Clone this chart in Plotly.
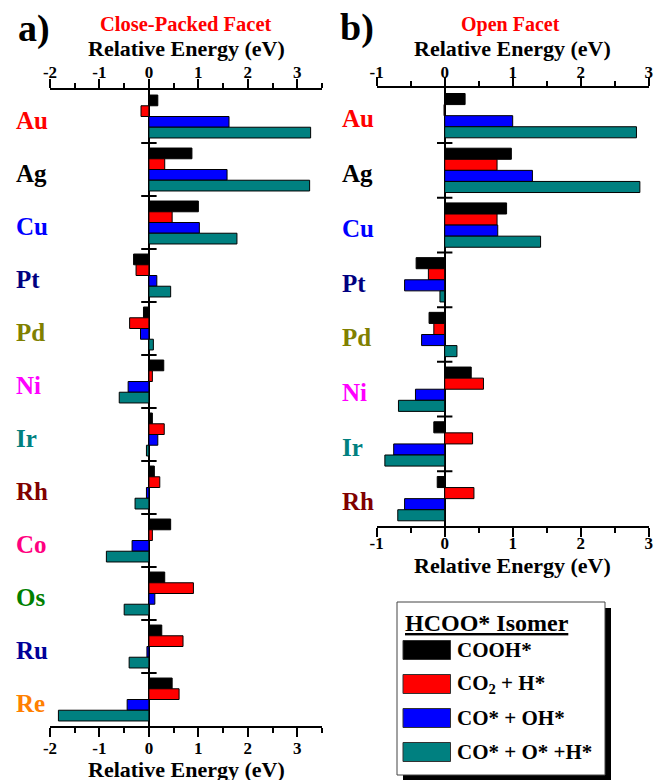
import plotly.graph_objects as go

W, H = 654, 780

# ---------------- data ----------------
series_names = ["COOH*", "CO<sub>2</sub> + H*", "CO* + OH*", "CO* + O* +H*"]
series_colors = ["#000000", "#FF0000", "#0000FF", "#008080"]

metals_a = ["Au", "Ag", "Cu", "Pt", "Pd", "Ni", "Ir", "Rh", "Co", "Os", "Ru", "Re"]
cooh_a = [0.18, 0.87, 1.00, -0.31, -0.11, 0.30, 0.07, 0.11, 0.44, 0.32, 0.26, 0.47]
co2_h_a = [-0.16, 0.32, 0.47, -0.26, -0.39, 0.07, 0.31, 0.22, 0.07, 0.90, 0.69, 0.61]
co_oh_a = [1.62, 1.58, 1.02, 0.16, -0.17, -0.42, 0.18, -0.05, -0.34, 0.12, -0.04, -0.44]
co_o_h_a = [3.27, 3.25, 1.78, 0.44, 0.09, -0.60, -0.05, -0.28, -0.86, -0.50, -0.40, -1.83]

metals_b = ["Au", "Ag", "Cu", "Pt", "Pd", "Ni", "Ir", "Rh"]
cooh_b = [0.30, 0.98, 0.91, -0.42, -0.23, 0.39, -0.16, -0.11]
co2_h_b = [-0.01, 0.77, 0.77, -0.24, -0.16, 0.57, 0.41, 0.43]
co_oh_b = [1.00, 1.29, 0.78, -0.59, -0.34, -0.43, -0.75, -0.59]
co_o_h_b = [2.82, 2.87, 1.41, -0.07, 0.18, -0.68, -0.88, -0.69]

label_colors = {"Au": "#FF0000", "Ag": "#000000", "Cu": "#0000FF", "Pt": "#000080",
                "Pd": "#808000", "Ni": "#FF00FF", "Ir": "#008080", "Rh": "#800000",
                "Co": "#FF0080", "Os": "#008000", "Ru": "#000099", "Re": "#FF8000"}

range_a = [-2, 3.5]
range_b = [-1, 3]
ticks_a = [-2, -1, 0, 1, 2, 3]
ticks_b = [-1, 0, 1, 2, 3]
ticktext_a = ["-2", "-1", "0", "1", "2", "3"]
ticktext_b = ["-1", "0", "1", "2", "3"]
axis_title = "Relative Energy (eV)"

FONT = "Liberation Serif"


def px(x):
    return x / W


def py(y):
    return 1 - y / H


fig = go.Figure()

series_a = [cooh_a, co2_h_a, co_oh_a, co_o_h_a]
series_b = [cooh_b, co2_h_b, co_oh_b, co_o_h_b]

for name, col, vals in zip(series_names, series_colors, series_a):
    fig.add_trace(go.Bar(x=vals, y=list(range(len(metals_a))), orientation="h",
                         name=name, marker=dict(color=col, line=dict(color="black", width=1)),
                         xaxis="x", yaxis="y", showlegend=False))
for name, col, vals in zip(series_names, series_colors, series_b):
    fig.add_trace(go.Bar(x=vals, y=list(range(len(metals_b))), orientation="h",
                         name=name, marker=dict(color=col, line=dict(color="black", width=1)),
                         xaxis="x2", yaxis="y2", showlegend=False))

# category separator ticks on the zero line
sep_a = [i + 0.5 for i in range(len(metals_a) - 1)]
sep_b = [i + 0.5 for i in range(len(metals_b) - 1)]
fig.add_trace(go.Scatter(x=[0] * len(sep_a), y=sep_a, mode="markers",
                         marker=dict(symbol="line-ew", size=11, line=dict(color="black", width=2)),
                         xaxis="x3", yaxis="y", showlegend=False, hoverinfo="skip"))
fig.add_trace(go.Scatter(x=[0] * len(sep_b), y=sep_b, mode="markers",
                         marker=dict(symbol="line-ew", size=11, line=dict(color="black", width=2)),
                         xaxis="x4", yaxis="y2", showlegend=False, hoverinfo="skip"))

tickfont = dict(family=FONT, size=17, color="black", weight="bold")
titlefont = dict(family=FONT, size=22, color="black", weight="bold")


def xaxis_common(rng, dom, side, tv, tt, standoff):
    return dict(domain=dom, range=rng, side=side, showgrid=False, automargin=False,
                showline=True, linecolor="black", linewidth=2,
                ticks="outside", ticklen=9, tickwidth=2, tickcolor="black",
                tickmode="array", tickvals=tv, ticktext=tt, ticklabelstandoff=standoff,
                minor=dict(dtick=0.5, ticks="outside", ticklen=5, tickwidth=2, tickcolor="black"),
                tickfont=tickfont, fixedrange=True)


dom_xa = [px(50), px(322)]
dom_ya = [py(726), py(90)]
dom_xb = [px(376.7), px(648.7)]
dom_yb = [py(526), py(88.3)]

xa = xaxis_common(range_a, dom_xa, "bottom", ticks_a, ticktext_a, -3)
xa.update(anchor="y", zeroline=True, zerolinecolor="black", zerolinewidth=2)
xa3 = xaxis_common(range_a, dom_xa, "top", ticks_a, ticktext_a, -6)
xa3.update(anchor="y", overlaying="x", zeroline=False)
xb = xaxis_common(range_b, dom_xb, "bottom", ticks_b, ticktext_b, -8)
xb.update(anchor="y2", zeroline=True, zerolinecolor="black", zerolinewidth=2)
xb4 = xaxis_common(range_b, dom_xb, "top", ticks_b, ticktext_b, -7)
xb4.update(anchor="y2", overlaying="x2", zeroline=False)

ycommon = dict(showgrid=False, zeroline=False, showline=False, showticklabels=False,
               ticks="", fixedrange=True, automargin=False)

fig.update_layout(
    width=W, height=H,
    margin=dict(l=0, r=0, t=0, b=0, autoexpand=False),
    paper_bgcolor="white", plot_bgcolor="white",
    barmode="group", bargap=0.19, bargroupgap=0,
    xaxis=xa, xaxis3=xa3, xaxis2=xb, xaxis4=xb4,
    yaxis=dict(domain=dom_ya, range=[len(metals_a) - 0.5, -0.5], anchor="x", **ycommon),
    yaxis2=dict(domain=dom_yb, range=[len(metals_b) - 0.5, -0.5], anchor="x2", **ycommon),
    showlegend=False,
)

annotations = []
# metal labels
for i, m in enumerate(metals_a):
    annotations.append(dict(x=px(14), xref="paper", y=i + 0.08, yref="y", text=m,
                            xanchor="left", yanchor="middle", showarrow=False,
                            font=dict(family=FONT, size=25, color=label_colors[m], weight="bold")))
for i, m in enumerate(metals_b):
    annotations.append(dict(x=px(340), xref="paper", y=i + 0.06, yref="y2", text=m,
                            xanchor="left", yanchor="middle", showarrow=False,
                            font=dict(family=FONT, size=25, color=label_colors[m], weight="bold")))

# axis titles
for cx, cy in [(186, 48), (186, 769), (512, 48), (512, 565)]:
    annotations.append(dict(x=px(cx), y=py(cy), xref="paper", yref="paper", text=axis_title,
                            showarrow=False, xanchor="center", yanchor="middle", font=titlefont))

# panel labels and facet titles
annotations += [
    dict(x=px(16), y=py(29), xref="paper", yref="paper", text="a)", showarrow=False,
         xanchor="left", yanchor="middle", font=dict(family=FONT, size=38, color="black", weight="bold")),
    dict(x=px(338), y=py(28), xref="paper", yref="paper", text="b)", showarrow=False,
         xanchor="left", yanchor="middle", font=dict(family=FONT, size=38, color="black", weight="bold")),
    dict(x=px(186), y=py(24), xref="paper", yref="paper", text="Close-Packed Facet", showarrow=False,
         xanchor="center", yanchor="middle", font=dict(family=FONT, size=20.5, color="#FF0000", weight="bold")),
    dict(x=px(510), y=py(25), xref="paper", yref="paper", text="Open Facet", showarrow=False,
         xanchor="center", yanchor="middle", font=dict(family=FONT, size=20, color="#FF0000", weight="bold")),
]

# legend box (manual)
shapes = [
    dict(type="rect", xref="paper", yref="paper", x0=px(403), x1=px(611), y0=py(781), y1=py(608),
         fillcolor="black", line=dict(width=0), layer="above"),
    dict(type="rect", xref="paper", yref="paper", x0=px(397), x1=px(605), y0=py(775), y1=py(602),
         fillcolor="white", line=dict(color="#444444", width=1), layer="above"),
]
annotations.append(dict(x=px(403), y=py(623), xref="paper", yref="paper",
                        text="<u>HCOO* Isomer</u>", showarrow=False, xanchor="left", yanchor="middle",
                        font=dict(family=FONT, size=24, color="black", weight="bold")))
entry_y = [650, 684, 718, 752]
for name, col, ey in zip(series_names, series_colors, entry_y):
    shapes.append(dict(type="rect", xref="paper", yref="paper", x0=px(403), x1=px(450.5),
                       y0=py(ey + 9.5), y1=py(ey - 9.5), fillcolor=col,
                       line=dict(color="#333333", width=1), layer="above"))
    annotations.append(dict(x=px(455), y=py(ey), xref="paper", yref="paper", text=name,
                            showarrow=False, xanchor="left", yanchor="middle",
                            font=dict(family=FONT, size=21, color="black", weight="bold")))

fig.update_layout(annotations=annotations, shapes=shapes)

fig.write_html("out.html")
